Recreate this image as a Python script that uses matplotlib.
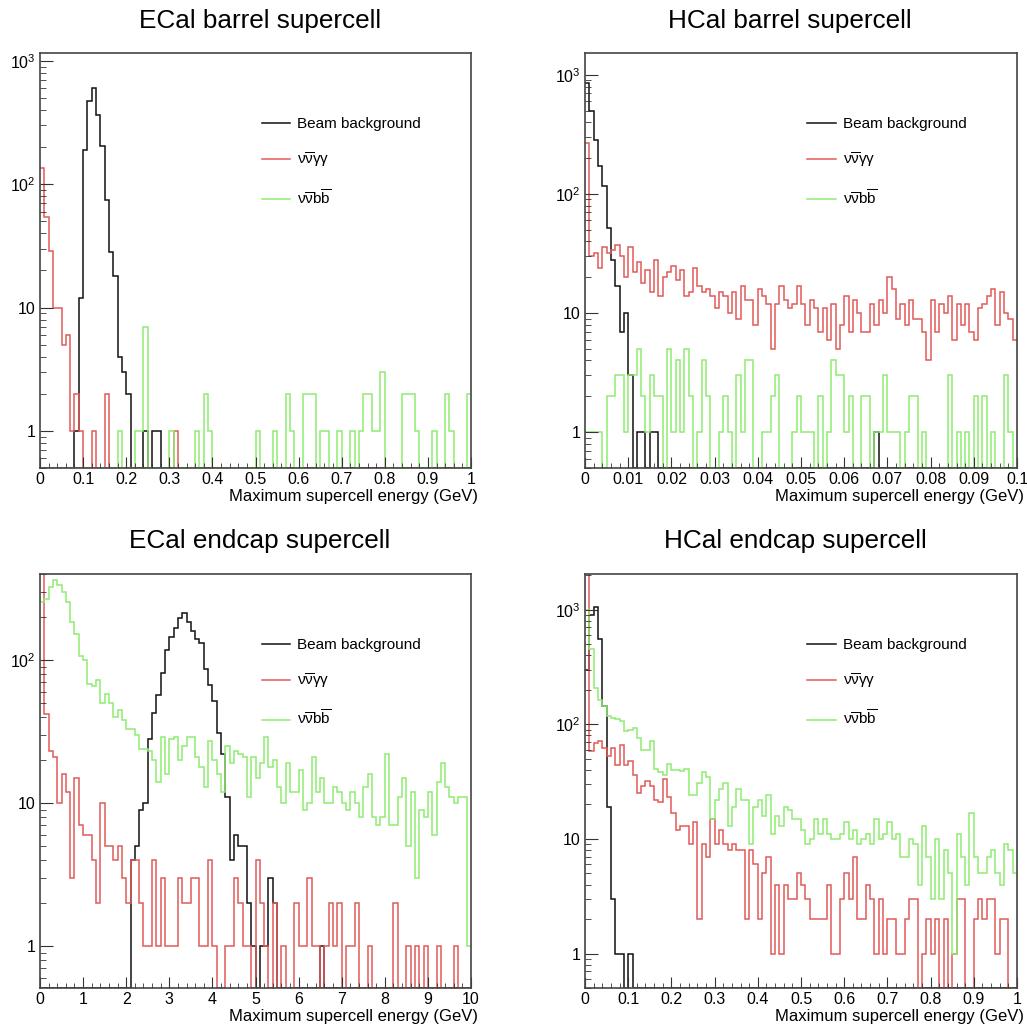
import numpy as np
import matplotlib
matplotlib.use('Agg')
import matplotlib.pyplot as plt
from matplotlib.ticker import MultipleLocator, LogLocator, FuncFormatter, NullFormatter

plt.rcParams['font.family'] = ['Liberation Sans', 'DejaVu Sans']
plt.rcParams['mathtext.fontset'] = 'custom'
plt.rcParams['mathtext.rm'] = 'Liberation Sans'
plt.rcParams['mathtext.it'] = 'Liberation Sans:italic'
plt.rcParams['mathtext.bf'] = 'Liberation Sans:bold'

# ---- data: 100 bins per histogram, counts ----
labels = ['Beam background', r'$\mathrm{\nu\overline{\nu}\gamma\gamma}$', r'$\mathrm{\nu\overline{\nu}b\overline{b}}$']
titles = ['ECal barrel supercell', 'HCal barrel supercell', 'ECal endcap supercell', 'HCal endcap supercell']
x_ranges = [(0, 1), (0, 0.1), (0, 10), (0, 1)]
y_ranges = [(0.5, 1160), (0.5, 1530), (0.51, 400), (0.5, 2050)]

ecal_barrel_beam = [0, 0, 0, 0, 0, 0, 0, 0, 1, 12, 189, 471, 604, 363, 203, 74, 28, 18, 4, 3,
                    2, 0, 0, 0, 1, 0, 1, 1, 0, 0, 0, 0, 0, 0, 0, 0, 0, 0, 0, 0,
                    0, 0, 0, 0, 0, 0, 0, 0, 0, 0, 0, 0, 0, 0, 0, 0, 0, 0, 0, 0,
                    0, 0, 0, 0, 0, 0, 0, 0, 0, 0, 0, 0, 0, 0, 0, 0, 0, 0, 0, 0,
                    0, 0, 0, 0, 0, 0, 0, 0, 0, 0, 0, 0, 0, 0, 0, 0, 0, 0, 0, 0]
ecal_barrel_nngg = [136, 54, 29, 10, 10, 5, 6, 1, 2, 1, 0, 0, 1, 0, 0, 2, 0, 0, 0, 0,
                    0, 0, 0, 0, 0, 0, 0, 0, 0, 0, 0, 1, 0, 0, 0, 0, 0, 0, 0, 0,
                    0, 0, 0, 0, 0, 0, 0, 0, 0, 0, 0, 0, 0, 0, 0, 0, 0, 0, 0, 0,
                    0, 0, 0, 0, 0, 0, 0, 0, 0, 0, 0, 0, 0, 0, 0, 0, 0, 0, 0, 0,
                    0, 0, 0, 0, 0, 0, 0, 0, 0, 0, 0, 0, 0, 0, 0, 0, 0, 0, 0, 0]
ecal_barrel_nnbb = [0, 0, 0, 0, 0, 0, 0, 0, 0, 0, 0, 0, 0, 0, 0, 0, 0, 0, 1, 0,
                    0, 0, 1, 1, 7, 0, 0, 0, 0, 0, 1, 0, 0, 0, 0, 0, 1, 0, 2, 1,
                    0, 0, 0, 0, 0, 0, 0, 0, 0, 0, 1, 0, 0, 0, 1, 0, 0, 2, 1, 0,
                    0, 2, 2, 2, 0, 1, 1, 0, 0, 1, 0, 0, 1, 0, 1, 2, 2, 1, 1, 3,
                    0, 0, 0, 0, 2, 2, 2, 1, 0, 0, 0, 1, 0, 0, 2, 1, 0, 0, 0, 2]

hcal_barrel_beam = [850, 500, 285, 173, 116, 52, 28, 17, 7, 10, 3, 0, 1, 1, 0, 1, 1, 0, 0, 0,
                    0, 0, 0, 0, 0, 0, 0, 0, 0, 0, 0, 0, 0, 0, 0, 0, 0, 0, 0, 0,
                    0, 0, 0, 0, 0, 0, 0, 0, 0, 0, 0, 0, 0, 0, 0, 0, 0, 0, 0, 0,
                    0, 0, 0, 0, 0, 0, 0, 1, 0, 0, 0, 0, 0, 0, 0, 0, 0, 0, 0, 0,
                    0, 0, 0, 0, 0, 0, 0, 0, 0, 0, 0, 0, 0, 0, 0, 0, 0, 0, 0, 0]
hcal_barrel_nngg = [269, 30, 32, 24, 36, 32, 34, 37, 30, 20, 36, 22, 27, 18, 23, 15, 28, 14, 20, 22,
                    25, 19, 23, 14, 15, 24, 17, 15, 16, 14, 11, 15, 14, 10, 15, 9, 17, 13, 13, 8,
                    16, 14, 12, 5, 12, 17, 13, 11, 12, 17, 12, 8, 13, 11, 7, 11, 6, 12, 5, 8,
                    14, 7, 13, 10, 7, 7, 12, 8, 13, 10, 20, 16, 9, 12, 8, 13, 9, 9, 7, 4,
                    13, 7, 12, 10, 14, 6, 12, 8, 12, 7, 6, 11, 12, 14, 16, 8, 15, 10, 9, 6]
hcal_barrel_nnbb = [1, 1, 1, 1, 0, 2, 2, 3, 3, 1, 3, 3, 5, 2, 1, 3, 2, 2, 0, 5,
                    1, 4, 1, 5, 2, 0, 1, 4, 2, 0, 0, 1, 2, 1, 0, 3, 1, 4, 4, 0,
                    0, 1, 1, 2, 3, 0, 0, 0, 1, 2, 1, 1, 1, 0, 2, 0, 1, 4, 3, 3,
                    1, 2, 0, 0, 2, 2, 0, 1, 1, 3, 1, 1, 1, 0, 1, 2, 2, 0, 1, 0,
                    0, 0, 0, 0, 3, 0, 1, 0, 1, 0, 2, 0, 2, 0, 1, 0, 0, 3, 1, 0]

ecal_endcap_beam = [0, 0, 0, 0, 0, 0, 0, 0, 0, 0, 0, 0, 0, 0, 0, 0, 0, 0, 0, 0,
                    0, 4, 5, 9, 10, 28, 43, 57, 81, 117, 144, 168, 198, 212, 185, 160, 140, 131, 87, 67,
                    52, 31, 22, 11, 4, 6, 5, 5, 2, 1, 0, 1, 1, 3, 2, 0, 0, 0, 0, 0,
                    0, 0, 0, 0, 0, 1, 0, 0, 0, 0, 0, 0, 0, 0, 0, 0, 0, 0, 0, 0,
                    0, 0, 0, 0, 0, 0, 0, 0, 0, 0, 0, 0, 0, 0, 0, 0, 0, 0, 0, 0]
ecal_endcap_nngg = [3000, 42, 23, 21, 10, 16, 12, 3, 15, 7, 6, 6, 4, 2, 10, 5, 5, 4, 5, 3,
                    2, 4, 4, 2, 1, 1, 4, 1, 3, 1, 1, 1, 3, 2, 2, 3, 3, 1, 1, 4,
                    1, 0, 0, 1, 1, 3, 2, 1, 1, 0, 4, 2, 1, 0, 2, 0, 1, 0, 0, 2,
                    1, 1, 3, 1, 1, 0, 1, 2, 1, 2, 0, 1, 1, 2, 0, 0, 1, 0, 0, 0,
                    0, 0, 2, 0, 0, 1, 0, 1, 0, 1, 0, 0, 1, 0, 0, 0, 1, 0, 0, 0]
ecal_endcap_nnbb = [256, 266, 326, 362, 334, 297, 256, 185, 152, 107, 100, 68, 66, 73, 50, 58, 50, 40, 45, 38,
                    33, 33, 30, 24, 24, 23, 20, 14, 29, 16, 28, 29, 20, 25, 29, 29, 21, 18, 13, 27,
                    20, 16, 12, 25, 19, 23, 22, 21, 11, 21, 15, 19, 29, 18, 20, 13, 10, 19, 12, 12,
                    17, 9, 10, 21, 12, 15, 10, 10, 13, 12, 10, 9, 12, 10, 8, 13, 16, 8, 7, 8,
                    22, 7, 7, 11, 15, 5, 12, 3, 9, 8, 12, 6, 14, 19, 13, 11, 10, 11, 11, 1]

hcal_endcap_beam = [300, 900, 1050, 550, 144, 19, 3, 1, 1, 0, 1, 0, 0, 0, 0, 0, 0, 0, 0, 0,
                    0, 0, 0, 0, 0, 0, 0, 0, 0, 0, 0, 0, 0, 0, 0, 0, 0, 0, 0, 0,
                    0, 0, 0, 0, 0, 0, 0, 0, 0, 0, 0, 0, 0, 0, 0, 0, 0, 0, 0, 0,
                    0, 0, 0, 0, 0, 0, 0, 0, 0, 0, 0, 0, 0, 0, 0, 0, 0, 0, 0, 0,
                    0, 0, 0, 0, 0, 0, 0, 0, 0, 0, 0, 0, 0, 0, 0, 0, 0, 0, 0, 0]
hcal_endcap_nngg = [5000, 58, 69, 72, 62, 53, 62, 44, 66, 44, 48, 36, 25, 29, 32, 29, 22, 21, 33, 23,
                    17, 12, 13, 13, 9, 14, 2, 9, 7, 15, 9, 12, 9, 8, 9, 8, 8, 2, 8, 6,
                    2, 5, 7, 1, 4, 1, 4, 3, 3, 5, 4, 3, 2, 2, 2, 2, 4, 1, 1, 3,
                    5, 3, 7, 2, 2, 4, 3, 1, 3, 1, 2, 2, 1, 1, 2, 3, 3, 0, 1, 2,
                    1, 2, 0, 2, 0, 1, 3, 3, 0, 0, 2, 3, 2, 3, 3, 1, 2, 2, 0, 0]
hcal_endcap_nnbb = [1000, 450, 207, 164, 144, 119, 114, 111, 106, 87, 90, 93, 76, 60, 60, 71, 41, 38, 36, 45,
                    40, 40, 39, 41, 24, 24, 31, 38, 35, 15, 22, 27, 31, 13, 19, 27, 22, 22, 9, 19,
                    22, 16, 24, 11, 16, 13, 19, 18, 15, 15, 12, 9, 10, 15, 11, 15, 11, 10, 10, 11,
                    14, 10, 12, 9, 10, 11, 9, 15, 10, 11, 14, 10, 11, 7, 7, 10, 9, 4, 13, 7,
                    3, 10, 3, 8, 5, 1, 11, 7, 4, 17, 7, 5, 5, 7, 8, 5, 4, 9, 8, 5]

panels = [
    (ecal_barrel_beam, ecal_barrel_nngg, ecal_barrel_nnbb),
    (hcal_barrel_beam, hcal_barrel_nngg, hcal_barrel_nnbb),
    (ecal_endcap_beam, ecal_endcap_nngg, ecal_endcap_nnbb),
    (hcal_endcap_beam, hcal_endcap_nngg, hcal_endcap_nnbb),
]

colors = ['#111111', '#e35a5a', '#8eec70']
frame_col = '#444444'

W, H = 1027, 1029
fig = plt.figure(figsize=(W / 100, H / 100), dpi=100)

# axes boxes in pixels: left, top, right, bottom
boxes = [(40, 53, 471, 468), (585, 53, 1017, 468), (40, 574, 471, 988), (585, 574, 1017, 988)]
title_pos = [(260, 21), (790, 21), (260, 541), (795, 541)]


def log_label(v, pos):
    if v == 1:
        return '1'
    if v == 10:
        return '10'
    return r'$10^{%d}$' % round(np.log10(v))


for i, (l, t, r, b) in enumerate(boxes):
    ax = fig.add_axes([l / W, 1 - b / H, (r - l) / W, (b - t) / H])
    x0, x1 = x_ranges[i]
    ylo, yhi = y_ranges[i]
    edges = np.linspace(x0, x1, 101)
    for vals, col, lab in zip(panels[i], colors, labels):
        v = np.asarray(vals, dtype=float)
        v[v <= 0] = ylo  # empty bins sit on the frame, ROOT style
        ax.stairs(v, edges, color=col, lw=1.1, baseline=None, label=lab)

    ax.set_yscale('log')
    ax.set_xlim(x0, x1)
    ax.set_ylim(ylo, yhi)

    step = (x1 - x0) / 10
    ax.xaxis.set_major_locator(MultipleLocator(step))
    ax.xaxis.set_minor_locator(MultipleLocator(step / 5))
    ax.xaxis.set_major_formatter(FuncFormatter(lambda v, p: '%g' % round(v, 6)))
    ax.yaxis.set_major_locator(LogLocator(base=10, numticks=10))
    ax.yaxis.set_minor_locator(LogLocator(base=10, subs=np.arange(2, 10), numticks=20))
    ax.yaxis.set_major_formatter(FuncFormatter(log_label))
    ax.yaxis.set_minor_formatter(NullFormatter())

    ax.tick_params(axis='both', which='both', direction='in', color='#333333',
                   top=False, right=False, labelsize=11.5, pad=3)
    ax.tick_params(axis='x', which='major', length=8)
    ax.tick_params(axis='x', which='minor', length=3.6)
    ax.tick_params(axis='y', which='major', length=9)
    ax.tick_params(axis='y', which='minor', length=4.5)
    for s in ax.spines.values():
        s.set_color(frame_col)
        s.set_linewidth(1.2)

    ax.set_xlabel('Maximum supercell energy (GeV)', fontsize=12, ha='right', va='center')
    ax.xaxis.set_label_coords(1 + 7 / (r - l), -29 / (b - t))

    ax.legend(loc='upper left', bbox_to_anchor=(0.515, 0.845), frameon=False,
              fontsize=11, handlelength=1.85, handletextpad=0.45, labelspacing=1.25,
              borderpad=0, borderaxespad=0)

    tx, ty = title_pos[i]
    fig.text(tx / W, 1 - ty / H, titles[i], fontsize=18.8, ha='center', va='center')

fig.savefig('out.png', dpi=100)
